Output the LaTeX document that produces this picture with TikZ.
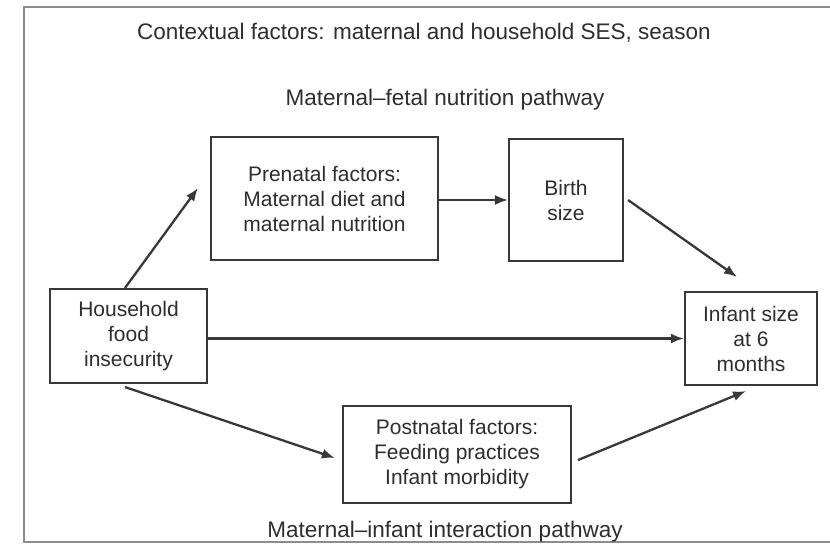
\documentclass[tikz,border=0pt]{standalone}
\usepackage{fontspec}
\setmainfont{Liberation Sans}
\usetikzlibrary{arrows.meta,calc}
\definecolor{ink}{HTML}{2E2E2E}
\definecolor{edge}{HTML}{383838}
\definecolor{framegray}{HTML}{8C8C8C}
\begin{document}
\begin{tikzpicture}[x=1pt,y=-1pt,
  box/.style={draw=edge, line width=2.1pt, fill=white, inner sep=0pt,
              align=center, text=ink, font=\fontsize{21}{25}\selectfont},
  lbl/.style={text=ink, inner sep=0pt, font=\fontsize{22.5}{27}\selectfont},
  arr/.style={draw=edge, line width=2.3pt, -{Latex[length=13pt,width=10pt]}}]
\clip (0,0) rectangle (830,552);
\fill[white] (0,0) rectangle (830,552);
% outer frame (open to the right)
\draw[framegray, line width=2.6pt] (845,7) -| (24,542) -- (845,542);

% headings
\node[lbl] (ctx) at (424,33) {Contextual factors: maternal and household SES, season};
\node[lbl] (mf)  at (445,100) {Maternal--fetal nutrition pathway};
\node[lbl] (mi)  at (445,532) {Maternal--infant interaction pathway};

% boxes
\node[box, minimum width=227pt, minimum height=123pt] (pre)   at (324.5,198.5) {Prenatal factors:\\Maternal diet and\\maternal nutrition};
\node[box, minimum width=114pt, minimum height=122pt] (birth) at (566,200) {Birth\\size};
\node[box, minimum width=157pt, minimum height=94pt]  (hh)    at (128.5,336) {Household\\food\\insecurity};
\node[box, minimum width=132pt, minimum height=93pt]  (inf)   at (751,338.5) {Infant size\\at 6\\months};
\node[box, minimum width=228pt, minimum height=97pt]  (post)  at (457,454.5) {Postnatal factors:\\Feeding practices\\Infant morbidity};

% free arrow ends
\coordinate (preIn)  at ($(pre.west)+(-12,-10.5)$);
\coordinate (infTop) at ($(inf.north)+(-14,-14)$);
\coordinate (postIn) at ($(post.west)+(-7,3.5)$);
\coordinate (infBot) at ($(inf.south)+(-5,5)$);

% connectors
\draw[arr] ([xshift=-3.5pt]hh.north) -- (preIn);
\draw[arr] (pre.east |- birth.west) -- (birth.west);
\draw[arr] ([xshift=4pt]birth.east) -- (infTop);
\draw[arr] (hh.east |- inf.west) -- (inf.west);
\draw[arr] ($(hh.south)+(-3.5,3)$) -- (postIn);
\draw[arr] ($(post.east)+(6,5.5)$) -- (infBot);
\end{tikzpicture}
\end{document}
